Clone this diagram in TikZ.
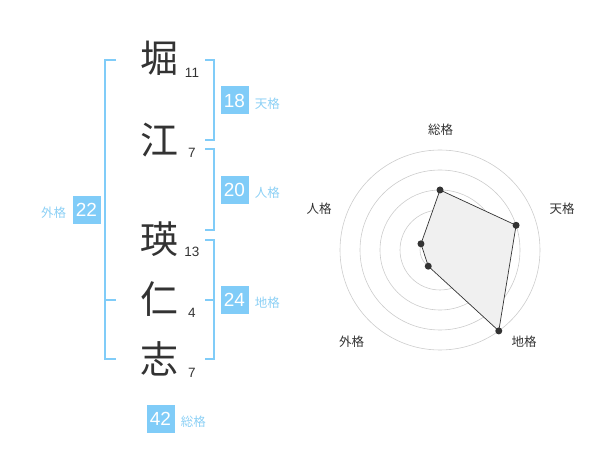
\documentclass[tikz,border=0pt]{standalone}
\usepackage{fontspec}
\setmainfont{Liberation Sans}
\newfontfamily\jp{Noto Sans CJK JP}
\usetikzlibrary{positioning}
\definecolor{kaku}{RGB}{128,204,248}
\definecolor{kakutext}{RGB}{140,208,245}
\definecolor{ink}{RGB}{51,51,51}

\begin{document}
\begin{tikzpicture}
		[x=1pt,y=-1pt,
		kanji/.style={text=ink,font=\jp\fontsize{38}{38}\selectfont,inner sep=0pt},
		num/.style={text=ink,font=\fontsize{13.5}{13.5}\selectfont,inner sep=0pt},
		score/.style={fill=kaku,text=white,minimum size=28pt,inner sep=0pt,font=\fontsize{19}{19}\selectfont},
		kname/.style={text=kakutext,font=\jp\fontsize{12.5}{12.5}\selectfont,inner sep=0pt},
		brace/.style={draw=kaku,line width=2pt},
		ring/.style={draw=black!20,line width=0.6pt},
		dot/.style={circle,fill=ink,inner sep=0pt,minimum size=7pt},
		axis/.style={text=ink,font=\jp\fontsize{12.5}{12.5}\selectfont,inner sep=0pt}]
		\useasboundingbox (0,0) rectangle (600,470);
		
		% name
		\node[kanji] (k1) at (159,58) {堀};
		\node[kanji] (k2) at (159,140) {江};
		\node[kanji] (k3) at (159,239) {瑛};
		\node[kanji] (k4) at (159,299) {仁};
		\node[kanji] (k5) at (159,359) {志};
		
		\node[num] (n1) at (192,73) {11};
		\node[num] (n2) at (192,153) {7};
		\node[num] (n3) at (192,252) {13};
		\node[num] (n4) at (192,313) {4};
		\node[num] (n5) at (192,373) {7};
		
		% brackets
		\draw[brace] (116,60) -- (105,60) -- (105,359) -- (116,359);
		\draw[brace] (105,300) -- (116,300);
		\draw[brace] (205,60) -- (214,60) -- (214,140) -- (205,140);
		\draw[brace] (205,149) -- (214,149) -- (214,230) -- (205,230);
		\draw[brace] (205,240) -- (214,240) -- (214,359) -- (205,359);
		\draw[brace] (205,300) -- (214,300);
		
		% scores
		\node[score] (ten) at (234.5,100.5) {18};
		\node[score] (jin) at (234.5,190) {20};
		\node[score] (chi) at (234.5,300) {24};
		\node[score] (gai) at (86.5,210) {22};
		\node[score] (sou) at (160.5,419) {42};
		
		\node[kname,right=6pt of ten,yshift=-3pt] (tenlabel) {天格};
		\node[kname,right=6pt of jin,yshift=-3pt] (jinlabel) {人格};
		\node[kname,right=6pt of chi,yshift=-3pt] (chilabel) {地格};
		\node[kname,left=6pt of gai,yshift=-3pt] (gailabel) {外格};
		\node[kname,right=6pt of sou,yshift=-3pt] (soulabel) {総格};
		
		% radar
		\begin{scope}[shift={(440,250)}]
		\foreach \r in {20,40,60,80,100}
			\draw[ring] (0,0) circle[radius=\r pt];
		\fill[black!20] (0,0) circle[radius=3.5pt];
		
		\coordinate (p1) at (90:60pt);
		\coordinate (p2) at (18:80pt);
		\coordinate (p3) at (-54:100pt);
		\coordinate (p4) at (-126:20pt);
		\coordinate (p5) at (162:20pt);
		
		\draw[fill=black!6,draw=ink,line width=0.7pt] (p1) -- (p2) -- (p3) -- (p4) -- (p5) -- cycle;
		\foreach \i in {1,...,5}
			\node[dot] (d\i) at (p\i) {};
		
		\node[axis] (a1) at (0.5,-120) {総格};
		\node[axis] (a2) at (122,-41.5) {天格};
		\node[axis] (a3) at (84,92) {地格};
		\node[axis] (a4) at (-88.5,92) {外格};
		\node[axis] (a5) at (-121,-41.5) {人格};
		\end{scope}
\end{tikzpicture}
\end{document}
